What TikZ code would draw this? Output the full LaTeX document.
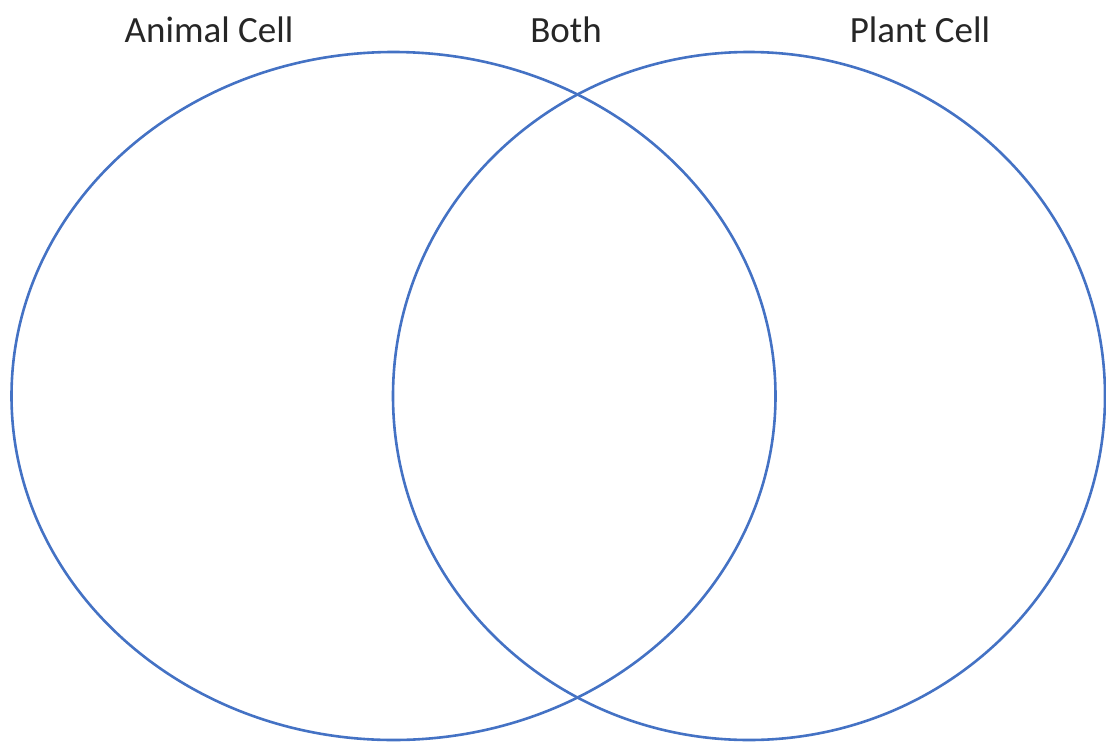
\documentclass[tikz,border=0pt]{standalone}
\usepackage{fontspec}
\setmainfont{Carlito}
\definecolor{venn}{HTML}{4472C4}
\begin{document}
\begin{tikzpicture}[x=1pt,y=-1pt,
  setring/.style={draw=venn,line width=2.6pt},
  heading/.style={anchor=base,text=black!85,font=\fontsize{37}{40}\selectfont,inner sep=0pt}]
  \useasboundingbox (0,0) rectangle (1106,745);
  % the two sets
  \draw[setring] (393.5,396) ellipse [x radius=382, y radius=344];
  \draw[setring] (749,396) ellipse [x radius=356, y radius=344];
  % headings
  \node[heading] (animal) at (209,42) {Animal Cell};
  \node[heading] (both) at (566,42) {Both};
  \node[heading] (plant) at (920,42) {Plant Cell};
\end{tikzpicture}
\end{document}
